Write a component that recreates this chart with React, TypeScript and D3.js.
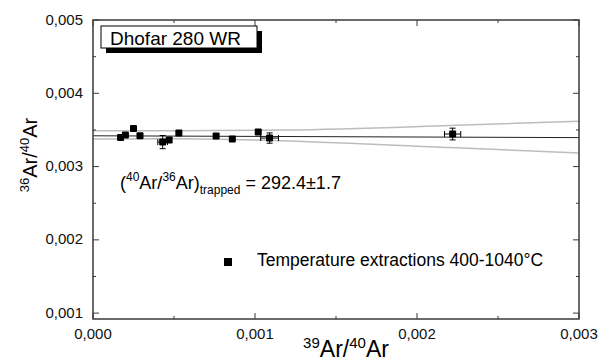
import React from "react";
import * as d3 from "d3";

// isochron data
const xVals = [0.00017, 0.0002, 0.00025, 0.00029, 0.00043, 0.00047, 0.00053, 0.00076, 0.00086, 0.00102, 0.00109, 0.00222];
const yVals = [0.003395, 0.00343, 0.00352, 0.00342, 0.003334, 0.003362, 0.003457, 0.003416, 0.003375, 0.003471, 0.003389, 0.003444];
const xErr = [0.00001, 0.00001, 0.00001, 0.00001, 0.00003, 0.00001, 0.00001, 0.00001, 0.00001, 0.00001, 0.000055, 0.00005];
const yErr = [0.00002, 0.00002, 0.00002, 0.00002, 0.00009, 0.00003, 0.00002, 0.00002, 0.00002, 0.00003, 0.00007, 0.00008];

// regression line and its envelope
const fitX = [0, 0.003];
const fitY = [0.00342, 0.003395];
const bandX = [0, 0.0005, 0.0012, 0.0022, 0.003];
const bandUpper = [0.00349, 0.00349, 0.0035, 0.00356, 0.00362];
const bandLower = [0.003375, 0.00338, 0.00335, 0.00326, 0.003184];

const xTicks = [0, 0.001, 0.002, 0.003];
const xMinor = [0.0005, 0.0015, 0.0025];
const yTicks = [0.001, 0.002, 0.003, 0.004, 0.005];
const yMinor = [0.0015, 0.0025, 0.0035, 0.0045];

const W = 600;
const H = 362;
const left = 93, right = 579, top = 20, bottom = 319;
const font = "'Liberation Sans', Arial, sans-serif";

export default function App() {
  const x = d3.scaleLinear().domain([0, 0.003]).range([left, right]);
  const y = d3.scaleLinear().domain([0.00092, 0.005]).range([bottom, top]);
  const fmt = (v: number) => d3.format(".3f")(v).replace(".", ",");

  const line = d3.line<[number, number]>().x(d => x(d[0])).y(d => y(d[1]));
  const curve = d3.line<[number, number]>().x(d => x(d[0])).y(d => y(d[1])).curve(d3.curveMonotoneX);

  const fit = line(fitX.map((v, i) => [v, fitY[i]]));
  const up = curve(bandX.map((v, i) => [v, bandUpper[i]]));
  const lo = curve(bandX.map((v, i) => [v, bandLower[i]]));

  const frame = "#3a3a3a";
  const ms = 7;

  return (
    <div style={{ position: "absolute", left: 0, top: 0 }}>
      <svg width={W} height={H} style={{ display: "block", background: "#fff" }} fontFamily={font}>
        <defs>
          <clipPath id="plot">
            <rect x={left} y={top} width={right - left} height={bottom - top} />
          </clipPath>
        </defs>

        <g clipPath="url(#plot)">
          <path d={up || ""} fill="none" stroke="#bdbdbd" strokeWidth={1.5} />
          <path d={lo || ""} fill="none" stroke="#bdbdbd" strokeWidth={1.5} />
          <path d={fit || ""} fill="none" stroke="#222" strokeWidth={1} />
        </g>

        {/* error bars and markers */}
        {xVals.map((xv, i) => {
          const cx = x(xv), cy = y(yVals[i]);
          const x0 = x(xv - xErr[i]), x1 = x(xv + xErr[i]);
          const y0 = y(yVals[i] - yErr[i]), y1 = y(yVals[i] + yErr[i]);
          return (
            <g key={i} stroke="#000" strokeWidth={1}>
              <line x1={x0} x2={x1} y1={cy} y2={cy} />
              <line x1={x0} x2={x0} y1={cy - 3} y2={cy + 3} />
              <line x1={x1} x2={x1} y1={cy - 3} y2={cy + 3} />
              <line x1={cx} x2={cx} y1={y0} y2={y1} />
              <line x1={cx - 3} x2={cx + 3} y1={y0} y2={y0} />
              <line x1={cx - 3} x2={cx + 3} y1={y1} y2={y1} />
              <rect x={cx - ms / 2} y={cy - ms / 2} width={ms} height={ms} fill="#000" stroke="none" rx={1} />
            </g>
          );
        })}

        {/* frame */}
        <rect x={left} y={top} width={right - left} height={bottom - top} fill="none" stroke={frame} strokeWidth={1.5} />

        {/* ticks on all four sides, pointing in */}
        <g stroke={frame} strokeWidth={1}>
          {xTicks.map(t => (
            <g key={"xt" + t}>
              <line x1={x(t)} x2={x(t)} y1={bottom} y2={bottom - 6} />
              <line x1={x(t)} x2={x(t)} y1={top} y2={top + 6} />
            </g>
          ))}
          {xMinor.map(t => (
            <g key={"xm" + t}>
              <line x1={x(t)} x2={x(t)} y1={bottom} y2={bottom - 3} />
              <line x1={x(t)} x2={x(t)} y1={top} y2={top + 3} />
            </g>
          ))}
          {yTicks.map(t => (
            <g key={"yt" + t}>
              <line x1={left} x2={left + 6} y1={y(t)} y2={y(t)} />
              <line x1={right} x2={right - 6} y1={y(t)} y2={y(t)} />
            </g>
          ))}
          {yMinor.map(t => (
            <g key={"ym" + t}>
              <line x1={left} x2={left + 3} y1={y(t)} y2={y(t)} />
              <line x1={right} x2={right - 3} y1={y(t)} y2={y(t)} />
            </g>
          ))}
        </g>

        {/* tick labels */}
        <g fontSize={15} fill="#111">
          {xTicks.map(t => (
            <text key={"xl" + t} x={x(t)} y={339} textAnchor="middle">{fmt(t)}</text>
          ))}
          {yTicks.map(t => (
            <text key={"yl" + t} x={83} y={y(t)} dy="0.3em" textAnchor="end">{fmt(t)}</text>
          ))}
        </g>

        {/* axis titles */}
        <text x={346} y={357} textAnchor="middle" fontSize={23} fill="#000">
          <tspan fontSize={15} dy={-9}>39</tspan>
          <tspan dy={9}>Ar/</tspan>
          <tspan fontSize={15} dy={-9}>40</tspan>
          <tspan dy={9}>Ar</tspan>
        </text>
        <text transform="translate(37,155) rotate(-90)" textAnchor="middle" fontSize={20} fill="#000">
          <tspan fontSize={13} dy={-8}>36</tspan>
          <tspan dy={8}>Ar/</tspan>
          <tspan fontSize={13} dy={-8}>40</tspan>
          <tspan dy={8}>Ar</tspan>
        </text>

        {/* sample box */}
        <rect x={106} y={31} width={156} height={22} fill="#000" />
        <rect x={101} y={26} width={156} height={22} fill="#fff" stroke="#000" strokeWidth={1} />
        <text x={110} y={45} fontSize={19} fill="#000">Dhofar 280 WR</text>

        {/* trapped ratio annotation */}
        <text x={120} y={189} fontSize={18} fill="#000">
          <tspan>(</tspan>
          <tspan fontSize={12} dy={-8}>40</tspan>
          <tspan dy={8}>Ar/</tspan>
          <tspan fontSize={12} dy={-8}>36</tspan>
          <tspan dy={8}>Ar)</tspan>
          <tspan fontSize={12} dy={5}>trapped</tspan>
          <tspan dy={-5}> = 292.4±1.7</tspan>
        </text>

        {/* legend */}
        <rect x={224} y={258} width={8} height={8} fill="#000" />
        <text x={257} y={266} fontSize={17.5} fill="#000">Temperature extractions 400-1040°C</text>
      </svg>
    </div>
  );
}
